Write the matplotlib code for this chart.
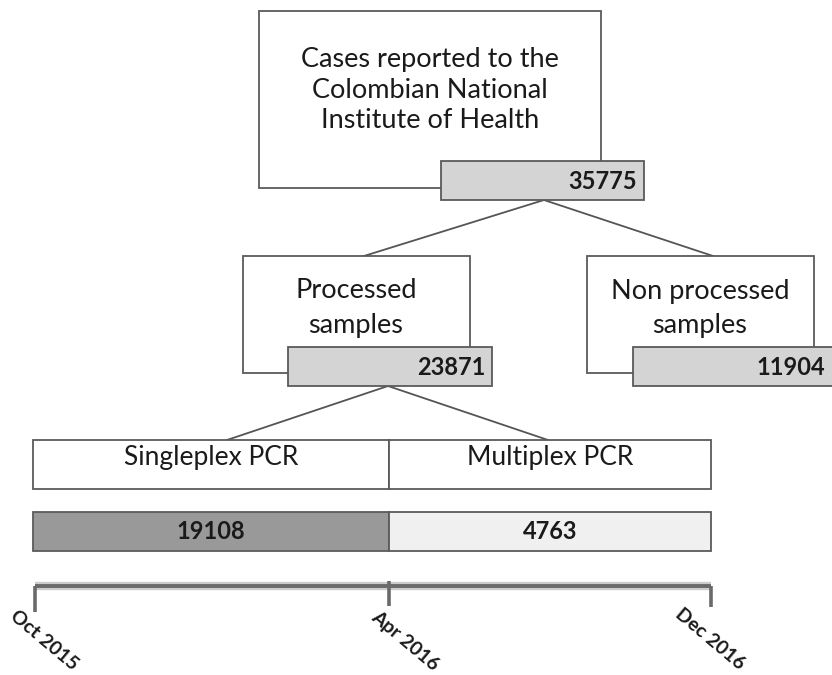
import matplotlib
matplotlib.use("Agg")
import matplotlib.pyplot as plt
from matplotlib.patches import Rectangle

# ---- data ----
node_labels = ["Cases reported to the\nColombian National\nInstitute of Health",
               "Processed\nsamples",
               "Non processed\nsamples"]
node_counts = [35775, 23871, 11904]
method_labels = ["Singleplex PCR", "Multiplex PCR"]
method_counts = [19108, 4763]
timeline_labels = ["Oct 2015", "Apr 2016", "Dec 2016"]

# ---- layout (pixel space) ----
W, H = 832, 675
FONT = ["Lato", "DejaVu Sans"]
EDGE = "#5a5a5a"
TXT = "#1a1a1a"

# white boxes: (x0, y0, x1, y1)
node_boxes = [(259, 11, 601, 188), (243, 256, 470, 373), (587, 256, 814, 373)]
# gray count boxes
count_boxes = [(441, 161, 644, 200), (288, 347, 492, 386), (633, 347, 840, 386)]
node_text_xy = [(430, 90), (356, 308), (700, 308)]
node_text_lsp = [1.3, 1.45, 1.45]

method_boxes = [(33, 440, 389, 489), (389, 440, 711, 489)]
bar_boxes = [(33, 512, 389, 551), (389, 512, 711, 551)]
bar_colors = ["#999999", "#f0f0f0"]

connectors = [((544, 200), (364, 256)), ((544, 200), (713, 256)),
              ((388, 386), (227, 440)), ((388, 386), (548, 440))]

tl_y = 586
tl_x = [35, 389, 711]
tl_tick_bottom = [612, 606, 607]
tl_label_xy = [(44, 640), (405, 641), (710, 639)]

fig = plt.figure(figsize=(W / 100, H / 100), dpi=100)
ax = fig.add_axes([0, 0, 1, 1])
ax.set_xlim(0, W)
ax.set_ylim(H, 0)
ax.axis("off")


def rect(b, fc, z=2, lw=1.3):
    x0, y0, x1, y1 = b
    ax.add_patch(Rectangle((x0, y0), x1 - x0, y1 - y0, facecolor=fc,
                           edgecolor=EDGE, linewidth=lw, zorder=z))


# connectors
for (p, q) in connectors:
    ax.plot([p[0], q[0]], [p[1], q[1]], color="#555555", lw=1.3, zorder=1)

# node boxes
for b, lab, (tx, ty), lsp in zip(node_boxes, node_labels, node_text_xy, node_text_lsp):
    rect(b, "white", z=2)
    ax.text(tx, ty, lab, ha="center", va="center", fontsize=19.5,
            family=FONT, color=TXT, linespacing=lsp, zorder=5)

for b, n in zip(count_boxes, node_counts):
    rect(b, "#d4d4d4", z=3)
    ax.text(min(b[2], W) - 7, (b[1] + b[3]) / 2 + 1, str(n), ha="right", va="center",
            fontsize=17, fontweight="bold", family=FONT, color=TXT, zorder=5)

# method boxes
for b, lab in zip(method_boxes, method_labels):
    rect(b, "white", z=2)
    ax.text((b[0] + b[2]) / 2, b[1] + 17, lab, ha="center", va="center",
            fontsize=19, family=FONT, color=TXT, zorder=5)

for b, n, c in zip(bar_boxes, method_counts, bar_colors):
    rect(b, c, z=2)
    ax.text((b[0] + b[2]) / 2, (b[1] + b[3]) / 2, str(n), ha="center", va="center",
            fontsize=17, fontweight="bold", family=FONT, color=TXT, zorder=5)

# timeline
ax.plot([tl_x[0], tl_x[-1]], [tl_y, tl_y], color="#cccccc", lw=6, zorder=1,
        solid_capstyle="butt")
ax.plot([tl_x[0], tl_x[-1]], [tl_y, tl_y], color="#6a6a6a", lw=2.8, zorder=2,
        solid_capstyle="butt")
for x, yb in zip(tl_x, tl_tick_bottom):
    ax.plot([x, x], [tl_y - (5 if x == tl_x[1] else 0), yb], color="#6a6a6a",
            lw=2.6, zorder=2, solid_capstyle="butt")
for (lx, ly), lab in zip(tl_label_xy, timeline_labels):
    ax.text(lx, ly, lab, ha="center", va="center", rotation=-40,
            rotation_mode="anchor", fontsize=14, fontweight="bold",
            family=FONT, color=TXT)

fig.savefig("out.png", dpi=100)
